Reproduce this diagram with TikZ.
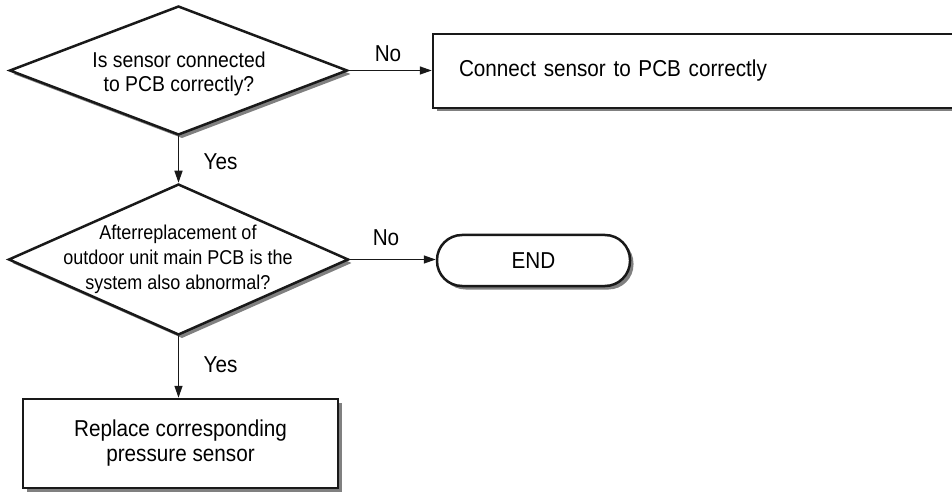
\documentclass[tikz,border=0pt]{standalone}
\usepackage{fontspec}
\setmainfont{Liberation Sans}[FakeStretch=0.9]
\usetikzlibrary{shapes.geometric,shadows,arrows.meta}

\begin{document}
\begin{tikzpicture}[x=1pt,y=-1pt,
  outlined/.style={draw=black!90, line width=2.5pt, fill=white,
    drop shadow={shadow xshift=3.5pt, shadow yshift=-3.5pt, fill=black!50, opacity=1}},
  decision/.style={outlined, diamond, inner sep=0pt},
  actionbox/.style={outlined, rectangle, inner sep=0pt},
  flow/.style={draw=black!90, line width=1.4pt, -{Triangle[length=12pt,width=8pt]}},
  txt/.style={font=\fontsize{23}{25}\selectfont},
  lbl/.style={txt, anchor=base},
]
\useasboundingbox (0,0) rectangle (952,494);

% decisions
\node[decision, minimum width=338pt, minimum height=129pt] (d1) at (178.5,70.5) {};
\node[font=\fontsize{21.5}{24}\selectfont, align=center] (q1) at (179,74)
  {Is sensor connected\\to PCB correctly?};

\node[decision, minimum width=340pt, minimum height=151pt] (d2) at (178.5,259.5) {};
\node[font=\fontsize{20}{25}\selectfont, align=center] (q2) at (178,259.5)
  {Afterreplacement of\\outdoor unit main PCB is the\\system also abnormal?};

% actions and terminator
\node[actionbox, txt, minimum width=527pt, minimum height=74pt,
      text width=475pt, inner xsep=26pt, align=left] (b1) at (696.5,71)
  {Connect sensor to PCB correctly};

\node[outlined, rectangle, rounded corners=25pt, minimum width=193pt,
      minimum height=51pt, txt] (e) at (533.5,260.5) {END};

\node[actionbox, txt, minimum width=315pt, minimum height=89pt, align=center]
  (b3) at (180.5,443.5) {Replace corresponding\\pressure sensor};

% connectors
\draw[flow] (d1.east) -- (d1.east -| b1.west);
\draw[flow] (d1.south) -- (d2.north);
\draw[flow] (d2.east) -- (d2.east -| e.west);
\draw[flow] (d2.south) -- (d2.south |- b3.north);

% branch labels
\node[lbl] (n1) at (388,62) {No};
\node[lbl] (y1) at (220.5,170) {Yes};
\node[lbl] (n2) at (386,245) {No};
\node[lbl] (y2) at (220.5,372) {Yes};
\end{tikzpicture}
\end{document}
